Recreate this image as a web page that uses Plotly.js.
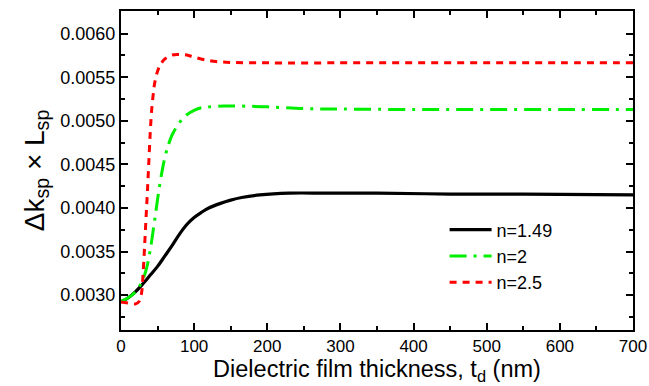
<!DOCTYPE html>
<html>
<head>
<meta charset="utf-8">
<script src="https://cdn.plot.ly/plotly-3.0.1.min.js"></script>
<style>html,body{margin:0;padding:0;background:#fff;}#chart{width:649px;height:386px;}</style>
</head>
<body>
<div id="chart"></div>
<script>
// n = 1.49
const tBlack = [0,10,20,30,40,50,60,70,80,90,100,110,120,135,150,165,190,230,280,350,450,550,700];
const vBlack = [0.00292,0.00297,0.00304,0.00313,0.00323,0.00333,0.00345,0.00357,0.00370,0.00381,0.00389,0.00395,0.00400,0.00405,0.00409,0.00412,0.00415,0.00417,0.00417,0.00417,0.00416,0.00416,0.00415];
// n = 2
const tGreen = [0,10,20,25,30,35,40,45,50,55,60,65,70,80,90,100,110,120,140,160,200,250,300,400,500,600,700];
const vGreen = [0.00293,0.00297,0.00304,0.00310,0.00318,0.00331,0.00352,0.00380,0.00410,0.00437,0.00458,0.00473,0.00484,0.00498,0.00507,0.00512,0.00515,0.00516,0.00517,0.00517,0.00516,0.00514,0.005135,0.00513,0.00513,0.00513,0.00513];
// n = 2.5
const tRed = [0,10,20,25,28,30,32,34,36,38,40,42,44,46,50,55,60,70,80,90,100,115,130,150,200,300,400,500,600,700];
const vRed = [0.00292,0.00291,0.00290,0.00293,0.00302,0.00322,0.00352,0.00385,0.00417,0.00452,0.00487,0.00513,0.00530,0.00543,0.00557,0.00566,0.00571,0.005755,0.00576,0.005755,0.00573,0.00570,0.00568,0.00567,0.005665,0.005665,0.005665,0.005665,0.005665,0.005665];
const names = ['n=1.49','n=2','n=2.5'];

const traces = [
  {x:tBlack, y:vBlack, name:names[0], mode:'lines', line:{color:'#000000', width:3.2, shape:'spline'}},
  {x:tGreen, y:vGreen, name:names[1], mode:'lines', line:{color:'#00ee00', width:3, dash:'17px,7px,3px,7px', shape:'spline'}},
  {x:tRed, y:vRed, name:names[2], mode:'lines', line:{color:'#ff0000', width:3, dash:'7px,6px', shape:'spline'}}
];

const fontFam = 'Liberation Sans, Arial, sans-serif';
const layout = {
  width:649, height:386,
  margin:{l:121, r:16, t:11, b:56},
  paper_bgcolor:'#fff', plot_bgcolor:'#fff',
  font:{family:fontFam, color:'#000', size:17},
  showlegend:true,
  legend:{x:0.632, y:0.372, xanchor:'left', yanchor:'top', bgcolor:'rgba(0,0,0,0)', font:{size:18, family:fontFam}, tracegroupgap:0, itemwidth:42},
  xaxis:{
    range:[0,700], dtick:100, tick0:0,
    showline:true, linewidth:2, linecolor:'#000', mirror:'ticks',
    ticks:'inside', ticklen:7, tickwidth:2, tickcolor:'#000',
    minor:{ticks:'inside', ticklen:4, tickwidth:2, dtick:50, tickcolor:'#000'},
    showgrid:false, zeroline:false,
    tickfont:{size:17},
    title:{text:'Dielectric film thickness, t<sub>d</sub> (nm)', font:{size:23.5}, standoff:4}
  },
  yaxis:{
    range:[0.0026,0.00626], dtick:0.0005, tick0:0, tickformat:'.4f',
    showline:true, linewidth:2, linecolor:'#000', mirror:'ticks',
    ticks:'inside', ticklen:7, tickwidth:2, tickcolor:'#000',
    minor:{ticks:'inside', ticklen:4, tickwidth:2, dtick:0.00025, tickcolor:'#000'},
    showgrid:false, zeroline:false,
    tickfont:{size:18},
    title:{text:'Δk<sub>sp</sub> × L<sub>sp</sub>', font:{size:28}, standoff:8}
  }
};
Plotly.newPlot('chart', traces, layout, {staticPlot:true});
</script>
</body>
</html>
